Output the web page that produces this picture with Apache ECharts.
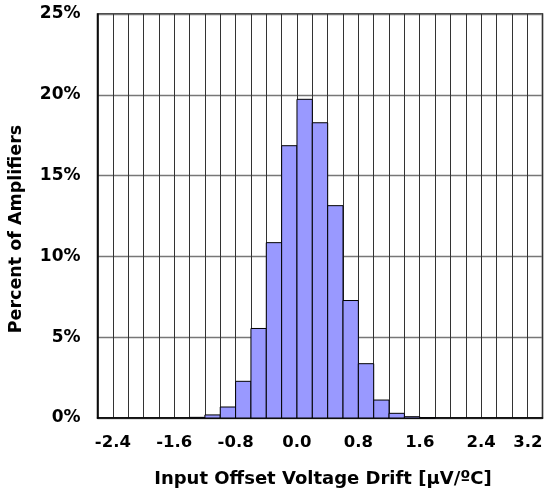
<!DOCTYPE html>
<html>
<head>
<meta charset="utf-8">
<script src="https://cdn.jsdelivr.net/npm/echarts@6/dist/echarts.min.js"></script>
<style>html,body{margin:0;padding:0;background:#fff}#c{width:555px;height:490px}</style>
</head>
<body>
<div id="c"></div>
<script>
// Histogram bins: left edge of each 0.2 µV/ºC bin
var binStart = [-1.4, -1.2, -1.0, -0.8, -0.6, -0.4, -0.2, 0.0, 0.2, 0.4, 0.6, 0.8, 1.0, 1.2, 1.4, 1.6];
var percent  = [0.04, 0.19, 0.68, 2.27, 5.54, 10.85, 16.85, 19.72, 18.27, 13.14, 7.27, 3.36, 1.11, 0.29, 0.08, 0.02];
var binWidth = 0.2;
var xTickLabels = ['-2.4', '-1.6', '-0.8', '0.0', '0.8', '1.6', '2.4', '3.2'];
var yTickLabels = ['0%', '5%', '10%', '15%', '20%', '25%'];

var data = binStart.map(function (s, i) { return [s, s + binWidth, percent[i]]; });
var font = '"DejaVu Sans", "Liberation Sans", Arial, sans-serif';

var chart = echarts.init(document.getElementById('c'), null, {renderer: 'canvas'});
chart.setOption({
  animation: false,
  grid: {left: 97.5, right: 12.5, top: 14, bottom: 72, show: true, borderColor: '#000', borderWidth: 1.5,
         containLabel: false, outerBoundsMode: 'none'},
  xAxis: {
    type: 'value', min: -2.6, max: 3.2, interval: 0.2,
    name: 'Input Offset Voltage Drift [µV/ºC]', nameLocation: 'middle', nameGap: 52,
    nameTextStyle: {fontFamily: font, fontWeight: 'bold', fontSize: 18, color: '#000', padding: [0, 0, 0, 6]},
    axisLine: {show: true, onZero: false, lineStyle: {color: '#000', width: 1.5}},
    axisTick: {show: false},
    splitLine: {show: true, lineStyle: {color: '#333', width: 1}},
    axisLabel: {
      fontFamily: font, fontWeight: 'bold', fontSize: 16.5, color: '#000', margin: 16,
      showMinLabel: true, showMaxLabel: true, alignMaxLabel: 'right', hideOverlap: false,
      formatter: function (v) {
        var r = Math.round(v * 10) / 10;
        var s = (Math.abs(r) < 1e-9 ? 0 : r).toFixed(1);
        return xTickLabels.indexOf(s) >= 0 ? s : '';
      }
    }
  },
  yAxis: {
    type: 'value', min: 0, max: 25, interval: 5,
    name: 'Percent of Amplifiers', nameLocation: 'middle', nameGap: 72, nameRotate: 90,
    nameTextStyle: {fontFamily: font, fontWeight: 'bold', fontSize: 17.5, color: '#000', padding: [0, 26, 0, 0]},
    axisLine: {show: true, onZero: false, lineStyle: {color: '#000', width: 1.5}},
    axisTick: {show: false},
    splitLine: {show: true, lineStyle: {color: '#777', width: 1.3}},
    axisLabel: {
      fontFamily: font, fontWeight: 'bold', fontSize: 17, color: '#000', margin: 17,
      formatter: function (v) { return yTickLabels[Math.round(v / 5)]; }
    }
  },
  series: [{
    type: 'custom',
    data: data,
    encode: {x: [0, 1], y: 2},
    renderItem: function (params, api) {
      var p0 = api.coord([api.value(0), api.value(2)]);
      var p1 = api.coord([api.value(1), 0]);
      return {
        type: 'rect',
        shape: {x: p0[0], y: p0[1], width: p1[0] - p0[0], height: p1[1] - p0[1]},
        style: {fill: '#9999ff', stroke: '#000', lineWidth: 1}
      };
    }
  }]
});
</script>
</body>
</html>
